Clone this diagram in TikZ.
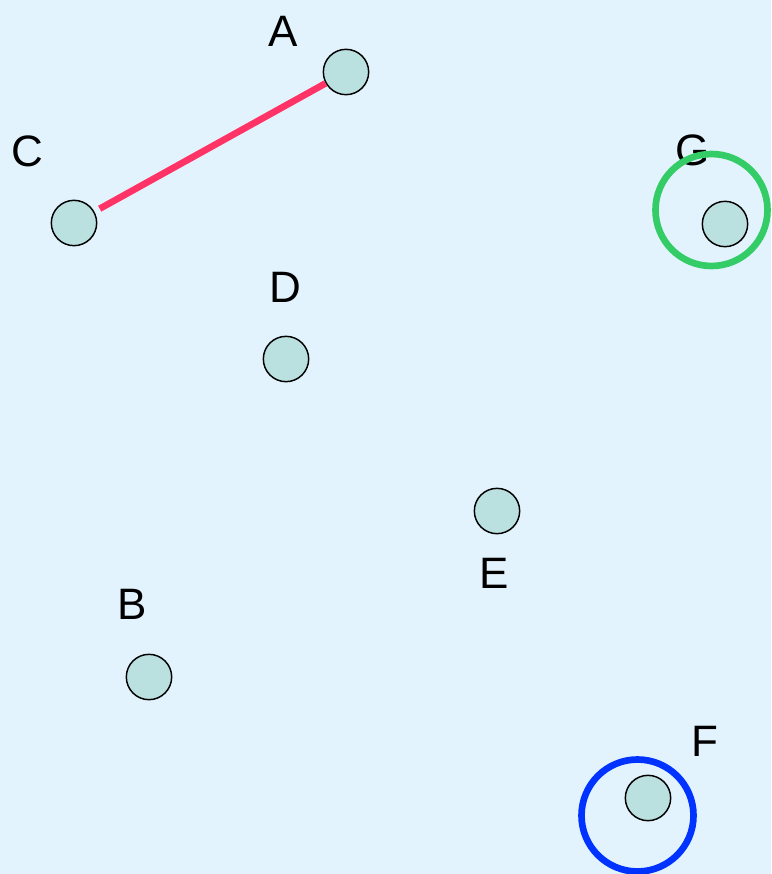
\documentclass[tikz,border=0pt]{standalone}
\usepackage{fontspec}
\setmainfont{Liberation Sans}
\definecolor{bgc}{HTML}{E3F3FD}
\definecolor{nodefill}{HTML}{BBE0E0}
\definecolor{redline}{HTML}{FF3366}
\definecolor{ringgreen}{HTML}{33CC66}
\definecolor{ringblue}{HTML}{0033FF}
\begin{document}
\begin{tikzpicture}[x=0.75pt,y=-0.75pt,
  pt/.style={circle,draw=black,fill=nodefill,line width=1.1pt,minimum size=34pt,inner sep=0pt},
  lbl/.style={inner sep=0pt,font=\fontsize{33}{36}\selectfont},
  ring/.style={circle,draw,line width=5pt,minimum size=84pt,inner sep=0pt}]
\fill[bgc] (0,0) rectangle (771,874);
\useasboundingbox (0,0) rectangle (771,874);
\node[lbl] (lG) at (693,150) {G};
\node[ring,draw=ringgreen] (ringG) at (711.5,210) {};
\node[ring,draw=ringblue] (ringF) at (637.5,815.5) {};
\node[pt] (A) at (346,72) {};
\node[pt] (C) at (74,223) {};
\node[pt] (D) at (286,359) {};
\node[pt] (E) at (497,511) {};
\node[pt] (B) at (149,677) {};
\node[pt] (F) at (648,798) {};
\node[pt] (G) at (725,224) {};
\draw[redline,line width=5pt,shorten <=4.5pt] (C) -- (A);
\node[lbl] (lA) at (283,31) {A};
\node[lbl] (lC) at (27,151) {C};
\node[lbl] (lD) at (285,287) {D};
\node[lbl] (lE) at (494,573) {E};
\node[lbl] (lB) at (132,604) {B};
\node[lbl] (lF) at (705,741) {F};
\end{tikzpicture}
\end{document}
